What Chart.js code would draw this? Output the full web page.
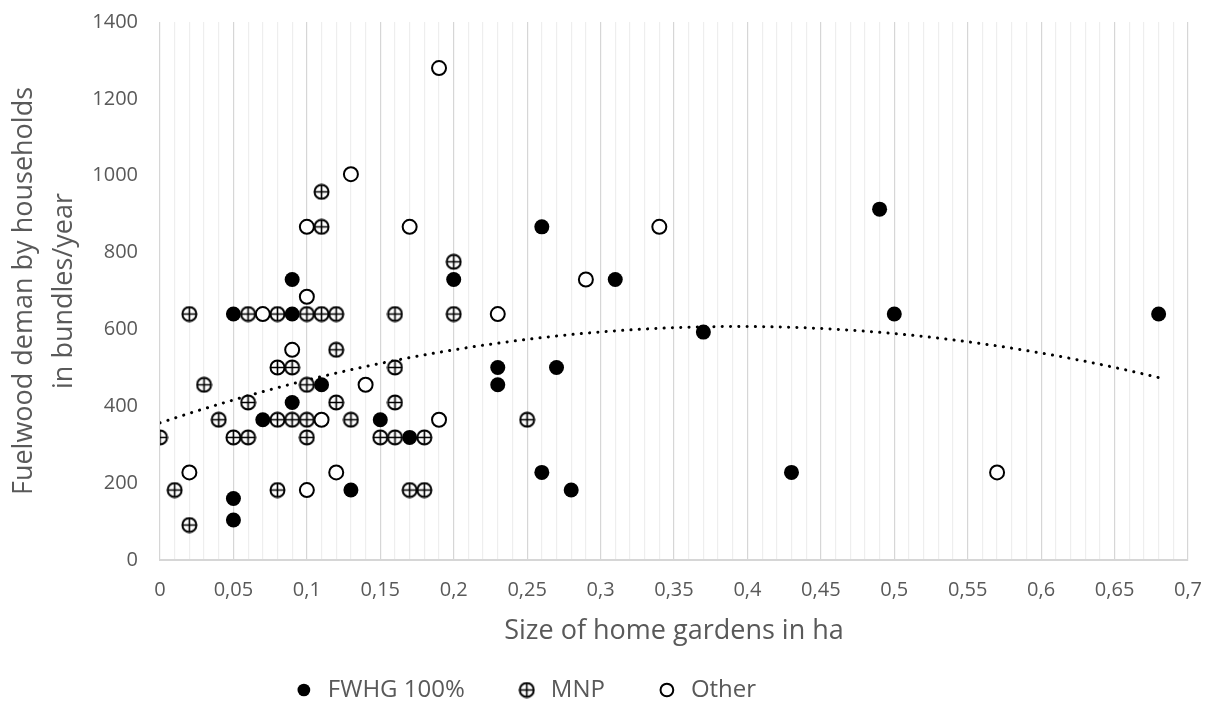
<!DOCTYPE html>
<html>
<head>
<meta charset="utf-8">
<script src="https://cdn.jsdelivr.net/npm/chart.js@4/dist/chart.umd.min.js"></script>
<style>
  html, body { margin: 0; padding: 0; background: #ffffff; }
  #wrap { width: 1208px; height: 725px; }
</style>
</head>
<body>
<div id="wrap"><canvas id="scatter"></canvas></div>
<script>
// --- data (x = garden size in ha, y = bundles/year) ---
var fwhgX = [0.05, 0.05, 0.05, 0.07, 0.09, 0.09, 0.09, 0.11, 0.13, 0.15, 0.17, 0.20,
             0.23, 0.23, 0.26, 0.26, 0.27, 0.28, 0.31, 0.37, 0.43, 0.49, 0.50, 0.68];
var fwhgY = [640, 160, 104, 365, 730, 640, 410, 456, 182, 365, 319, 730,
             501, 456, 867, 228, 501, 182, 730, 593, 228, 913, 640, 640];

var mnpX = [0.11, 0.11, 0.20, 0.02, 0.06, 0.08, 0.10, 0.11, 0.12, 0.16, 0.20, 0.12, 0.08,
            0.09, 0.16, 0.03, 0.10, 0.06, 0.12, 0.16, 0.04, 0.08, 0.09, 0.10, 0.13, 0.25,
            0.00, 0.05, 0.06, 0.10, 0.15, 0.16, 0.18, 0.01, 0.08, 0.17, 0.18, 0.02];
var mnpY = [958, 867, 776, 640, 640, 640, 640, 640, 640, 640, 640, 547, 501,
            501, 501, 456, 456, 410, 410, 410, 365, 365, 365, 365, 365, 365,
            319, 319, 319, 319, 319, 319, 319, 182, 182, 182, 182, 91];

var otherX = [0.19, 0.13, 0.10, 0.17, 0.34, 0.29, 0.10, 0.07, 0.23, 0.09, 0.14, 0.11,
              0.19, 0.02, 0.12, 0.57, 0.10];
var otherY = [1280, 1004, 867, 867, 867, 730, 685, 640, 640, 547, 456, 365,
              365, 228, 228, 228, 182];

var seriesNames = ['FWHG 100%', 'MNP', 'Other'];
var xTickLabels = ['0', '0,05', '0,1', '0,15', '0,2', '0,25', '0,3', '0,35',
                   '0,4', '0,45', '0,5', '0,55', '0,6', '0,65', '0,7'];
var yTickLabels = ['0', '200', '400', '600', '800', '1000', '1200', '1400'];

function toPoints(xs, ys) {
  return xs.map(function (x, i) { return { x: x, y: ys[i] }; });
}

// Excel-style polynomial (order 2) trendline over all households
function quadFit(xs, ys) {
  var s = [0, 0, 0, 0, 0], t = [0, 0, 0];
  xs.forEach(function (x, i) {
    var p = 1;
    for (var k = 0; k < 5; k++) { s[k] += p; if (k < 3) t[k] += p * ys[i]; p *= x; }
  });
  var m = [[s[0], s[1], s[2], t[0]], [s[1], s[2], s[3], t[1]], [s[2], s[3], s[4], t[2]]];
  for (var c = 0; c < 3; c++) {
    for (var r = c + 1; r < 3; r++) {
      var f = m[r][c] / m[c][c];
      for (var j = c; j < 4; j++) m[r][j] -= f * m[c][j];
    }
  }
  var b = [0, 0, 0];
  for (var i = 2; i >= 0; i--) {
    var v = m[i][3];
    for (var j2 = i + 1; j2 < 3; j2++) v -= m[i][j2] * b[j2];
    b[i] = v / m[i][i];
  }
  return b;
}

var allX = fwhgX.concat(mnpX, otherX);
var allY = fwhgY.concat(mnpY, otherY);
var coef = quadFit(allX, allY);
var xMin = Math.min.apply(null, allX), xMax = Math.max.apply(null, allX);
var trendPts = [];
for (var n = 0; n <= 68; n++) {
  var tx = xMin + (xMax - xMin) * n / 68;
  trendPts.push({ x: tx, y: coef[0] + coef[1] * tx + coef[2] * tx * tx });
}

// circle-with-plus marker for MNP
function plusCircle(size) {
  var cv = document.createElement('canvas');
  cv.width = size; cv.height = size;
  var c = cv.getContext('2d');
  var mid = size / 2, r = size / 2 - 1.5;
  c.beginPath(); c.arc(mid, mid, r, 0, Math.PI * 2);
  c.fillStyle = '#ffffff'; c.fill();
  c.lineWidth = 2; c.strokeStyle = '#000000'; c.stroke();
  c.beginPath();
  c.moveTo(mid - r, mid); c.lineTo(mid + r, mid);
  c.moveTo(mid, mid - r); c.lineTo(mid, mid + r);
  c.lineWidth = 1.6; c.stroke();
  return cv;
}
var mnpMarker = plusCircle(17);

var gray = '#595959';
var fontFam = '"Open Sans", "Noto Sans", sans-serif';

// moves the bottom legend left/up to where the reference has it
var legendShift = {
  id: 'legendShift',
  afterLayout: function (chart) {
    var lg = chart.legend;
    if (!lg) return;
    lg.left -= 80; lg.right -= 80;
    lg.top -= 22; lg.bottom -= 22;
  }
};

new Chart(document.getElementById('scatter').getContext('2d'), {
  type: 'scatter',
  data: {
    datasets: [{
      label: seriesNames[0],
      data: toPoints(fwhgX, fwhgY),
      pointStyle: 'circle',
      pointRadius: 7.5,
      backgroundColor: '#000000',
      borderColor: '#000000',
      borderWidth: 0,
      order: 1
    }, {
      label: seriesNames[1],
      data: toPoints(mnpX, mnpY),
      pointStyle: mnpMarker,
      backgroundColor: '#ffffff',
      borderColor: '#000000',
      borderWidth: 2,
      order: 1
    }, {
      label: seriesNames[2],
      data: toPoints(otherX, otherY),
      pointStyle: 'circle',
      pointRadius: 7,
      backgroundColor: '#ffffff',
      borderColor: '#000000',
      borderWidth: 2,
      order: 1
    }, {
      label: 'trend',
      type: 'line',
      data: trendPts,
      showLine: true,
      pointRadius: 0,
      borderColor: '#000000',
      borderWidth: 3,
      borderDash: [0.1, 8.2],
      borderCapStyle: 'round',
      tension: 0,
      fill: false,
      order: 2
    }]
  },
  options: {
    responsive: true,
    maintainAspectRatio: false,
    animation: false,
    layout: { padding: { top: 0, right: 0, bottom: -9, left: 0 } },
    plugins: {
      tooltip: { enabled: false },
      legend: {
        position: 'bottom',
        labels: {
          usePointStyle: true,
          boxHeight: 9,
          padding: 50,
          color: gray,
          font: { family: fontFam, size: 24 },
          filter: function (item) { return item.text !== 'trend'; }
        }
      }
    },
    scales: {
      x: {
        type: 'linear',
        min: 0,
        max: 0.7,
        afterFit: function (scale) {
          scale.height = 90;
          scale.paddingRight = 20;
        },
        ticks: {
          stepSize: 0.01,
          autoSkip: false,
          maxRotation: 0,
          padding: 18,
          color: gray,
          font: { family: fontFam, size: 20 },
          callback: function (v) {
            var h = Math.round(v * 100);
            return h % 5 === 0 ? xTickLabels[h / 5] : '';
          }
        },
        grid: {
          drawTicks: false,
          lineWidth: 1.2,
          color: function (ctx) {
            if (!ctx.tick) return '#eeeeee';
            return Math.round(ctx.tick.value * 100) % 5 === 0 ? '#d6d6d6' : '#eeeeee';
          }
        },
        border: { display: true, color: '#d6d6d6', width: 2 },
        title: {
          display: true,
          text: 'Size of home gardens in ha',
          color: gray,
          font: { family: fontFam, size: 27 },
          padding: { top: 0, bottom: 2 }
        }
      },
      y: {
        min: 0,
        max: 1400,
        afterFit: function (scale) {
          scale.width = 160;
          scale.paddingTop = 22;
        },
        ticks: {
          stepSize: 200,
          padding: 22,
          color: gray,
          font: { family: fontFam, size: 20 },
          callback: function (v) { return yTickLabels[Math.round(v / 200)]; }
        },
        grid: { display: false, drawTicks: false },
        border: { display: false },
        title: {
          display: true,
          text: ['Fuelwood deman by households', 'in bundles/year'],
          color: gray,
          font: { family: fontFam, size: 27, lineHeight: 1.48 },
          padding: { top: 4, bottom: 0 }
        }
      }
    }
  },
  plugins: [legendShift]
});
</script>
</body>
</html>
